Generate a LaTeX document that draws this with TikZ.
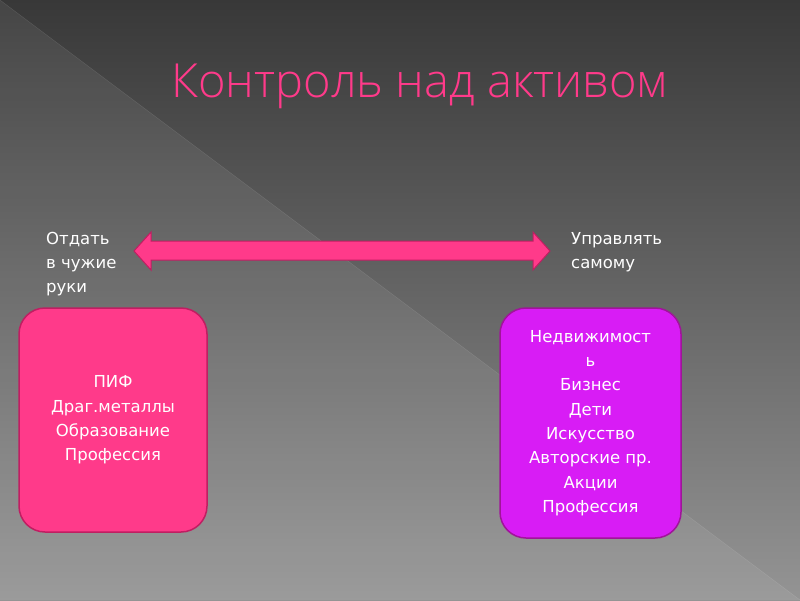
\documentclass[tikz,border=0pt]{standalone}
\usepackage{fontspec}
\setmainfont{DejaVu Sans}
\newfontfamily\titlefont{Open Sans Light}
\begin{document}
\begin{tikzpicture}[x=1pt,y=-1pt]
\definecolor{pinkA}{HTML}{FF3A8A}
\definecolor{pinkB}{HTML}{C01E62}
\definecolor{purpA}{HTML}{D81CF5}
\definecolor{purpB}{HTML}{A0149A}
\tikzset{box/.style={rounded corners=26pt,line width=1.5pt,inner sep=0pt},
 lbl/.style={text=white,font=\fontsize{16.5}{24}\selectfont,align=left,anchor=north west,inner sep=0pt},
 btxt/.style={text=white,font=\fontsize{16.5}{24.3}\selectfont,align=center,inner sep=0pt}}
\useasboundingbox (0,0) rectangle (800,600);
\shade[top color=black!78,bottom color=black!42] (0,0) rectangle (800,600);
\fill[white,opacity=0.07] (0,0) -- (800,600) -- (0,600) -- cycle;
\draw[white,opacity=0.12] (0,0) -- (800,600);
\node[text=pinkA,font=\titlefont\fontsize{47}{52}\selectfont] (title) at (420,86) {Контроль над активом};
\draw[fill=pinkA,draw=pinkB,line width=1pt] (134,251) -- (151,232) -- (151,241) -- (533,241) -- (533,232) -- (550,251) -- (533,270) -- (533,260) -- (151,260) -- (151,270) -- cycle;
\node[lbl] (l) at (46,232) {Отдать\\в чужие\\руки};
\node[lbl] (r) at (571,232) {Управлять\\самому};
\draw[box,fill=pinkA,draw=pinkB] (19,308) rectangle (207,532);
\node[btxt] (lt) at (113,420) {ПИФ\\Драг.металлы\\Образование\\Профессия};
\draw[box,fill=purpA,draw=purpB] (500,308) rectangle (681,538);
\node[btxt] (rt) at (590.5,423) {Недвижимост\\ь\\Бизнес\\Дети\\Искусство\\Авторские пр.\\Акции\\Профессия};
\end{tikzpicture}
\end{document}
